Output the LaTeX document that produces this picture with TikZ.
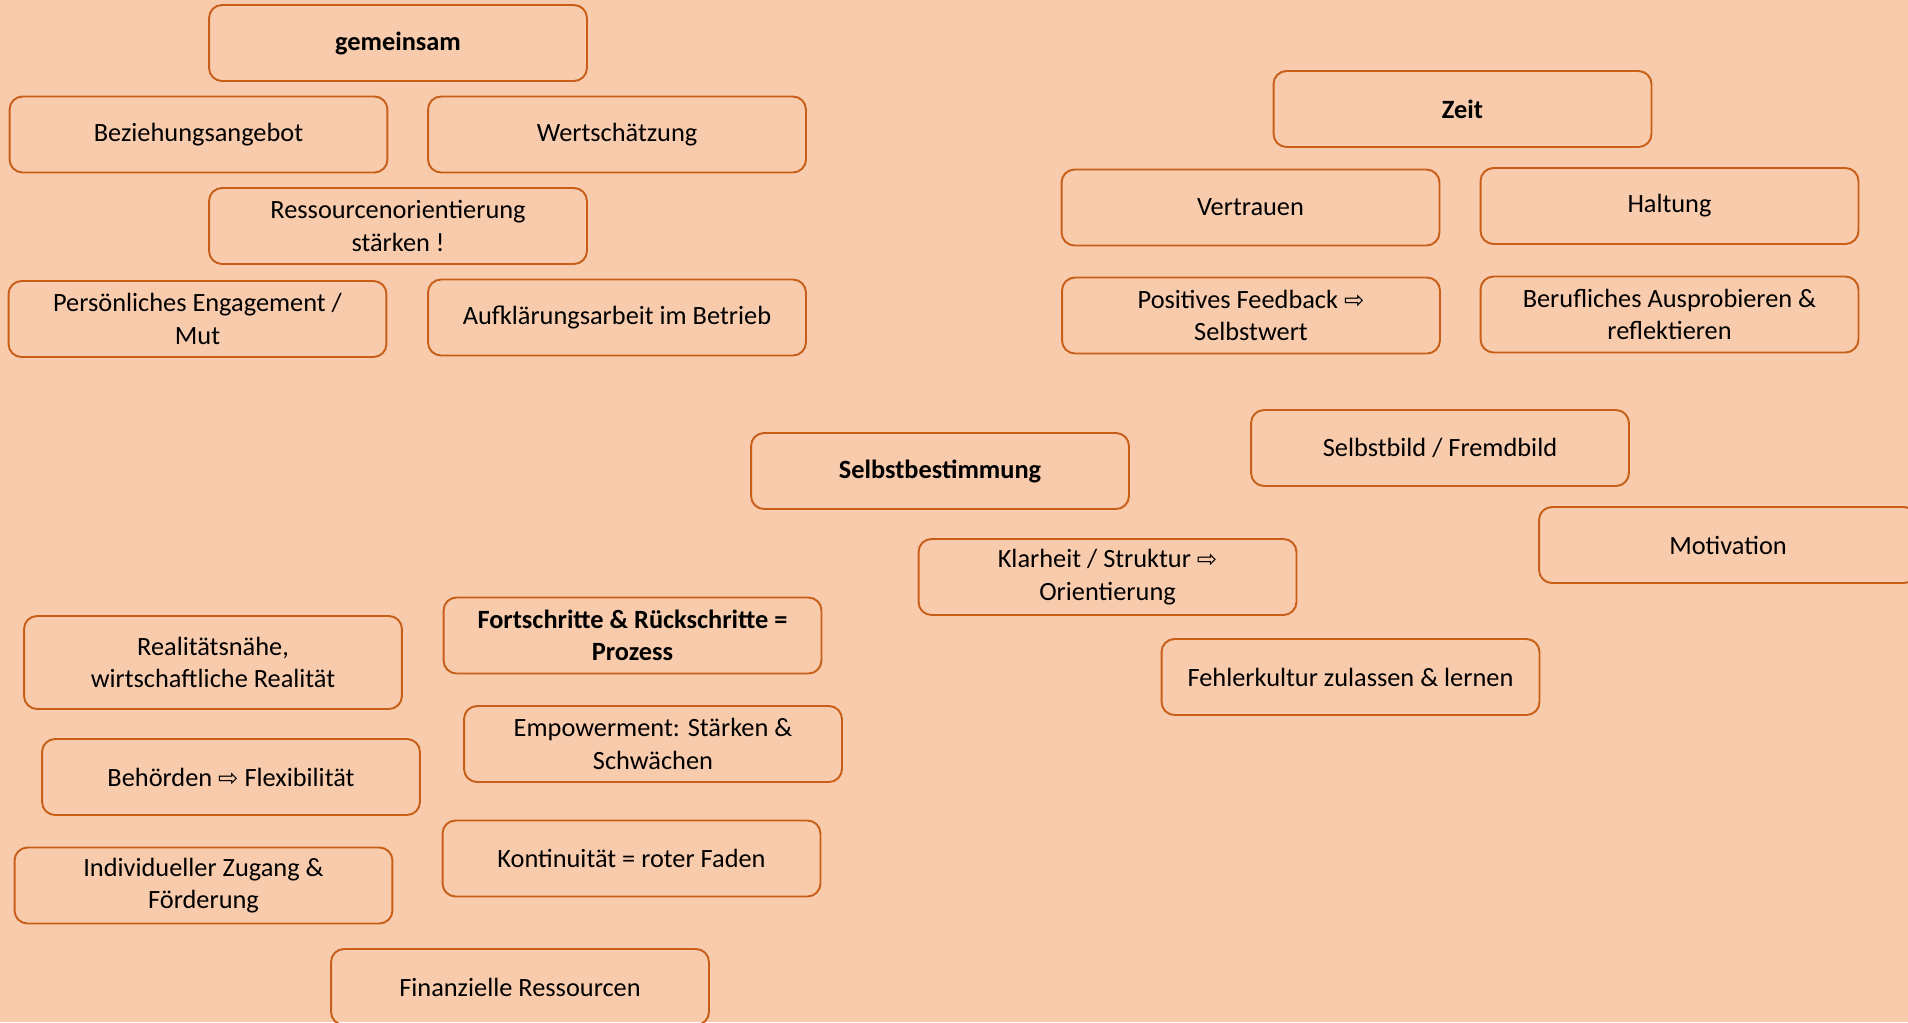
\documentclass[tikz,border=0pt]{standalone}
\usepackage{fontspec}
\setmainfont{Carlito}
\newfontfamily\arrowfont{DejaVu Sans}
\usepackage{tikz}
\usetikzlibrary{positioning}
\definecolor{peach}{RGB}{248,203,173}
\definecolor{rust}{RGB}{200,95,25}
\newcommand{\impl}{{\arrowfont\scalebox{0.92}{⇨}}}

\begin{document}
\begin{tikzpicture}[x=0.02cm,y=-0.02cm,
  card/.style={draw=rust,line width=1.1pt,rounded corners=0.26cm,
    minimum width=7.56cm,minimum height=1.52cm,align=center,
    font=\fontsize{15}{18.4}\selectfont},
  head/.style={card,font=\fontsize{15}{18.4}\selectfont\bfseries}]
  \fill[peach] (0,0) rectangle (1908,1022);
  \useasboundingbox (0,0) rectangle (1908,1022);
  % gemeinsam
  \node[head] (gem) at (398,43) {gemeinsam};
  \node[card] (bez) at (198.5,134.5) {Beziehungsangebot};
  \node[card] (wert) at (617,134.5) {Wertschätzung};
  \node[card] (ress) at (398,226) {Ressourcenorientierung\\stärken !};
  \node[card] (pers) at (197.5,319) {Persönliches Engagement /\\Mut};
  \node[card] (aufk) at (617,317.5) {Aufklärungsarbeit im Betrieb};
  % Zeit
  \node[head] (zeit) at (1462.5,109) {Zeit};
  \node[card] (vertr) at (1250.5,207.5) {Vertrauen};
  \node[card] (halt) at (1669.5,206) {Haltung};
  \node[card] (feed) at (1251,315.5) {Positives Feedback \impl\\Selbstwert};
  \node[card] (beruf) at (1669.5,314.5) {Berufliches Ausprobieren \&\\reflektieren};
  % Selbstbestimmung
  \node[head] (selbst) at (940,471) {Selbstbestimmung};
  \node[card] (bild) at (1440,448) {Selbstbild / Fremdbild};
  \node[card] (motiv) at (1728,545) {Motivation};
  \node[card] (klar) at (1107.5,577) {Klarheit / Struktur \impl\\Orientierung};
  \node[card] (fehler) at (1350.5,677) {Fehlerkultur zulassen \& lernen};
  % Prozess
  \node[card,minimum height=1.86cm] (real) at (213,662.5) {Realitätsnähe,\\wirtschaftliche Realität};
  \node[head] (fort) at (632.5,635.5) {Fortschritte \& Rückschritte =\\Prozess};
  \node[card] (emp) at (653,744) {Empowerment: Stärken \&\\Schwächen};
  \node[card] (beh) at (231,777) {Behörden \impl{} Flexibilität};
  \node[card] (kont) at (631.5,858.5) {Kontinuität = roter Faden};
  \node[card] (indiv) at (203.5,885.5) {Individueller Zugang \&\\Förderung};
  \node[card] (fin) at (520,987) {Finanzielle Ressourcen};
\end{tikzpicture}
\end{document}
